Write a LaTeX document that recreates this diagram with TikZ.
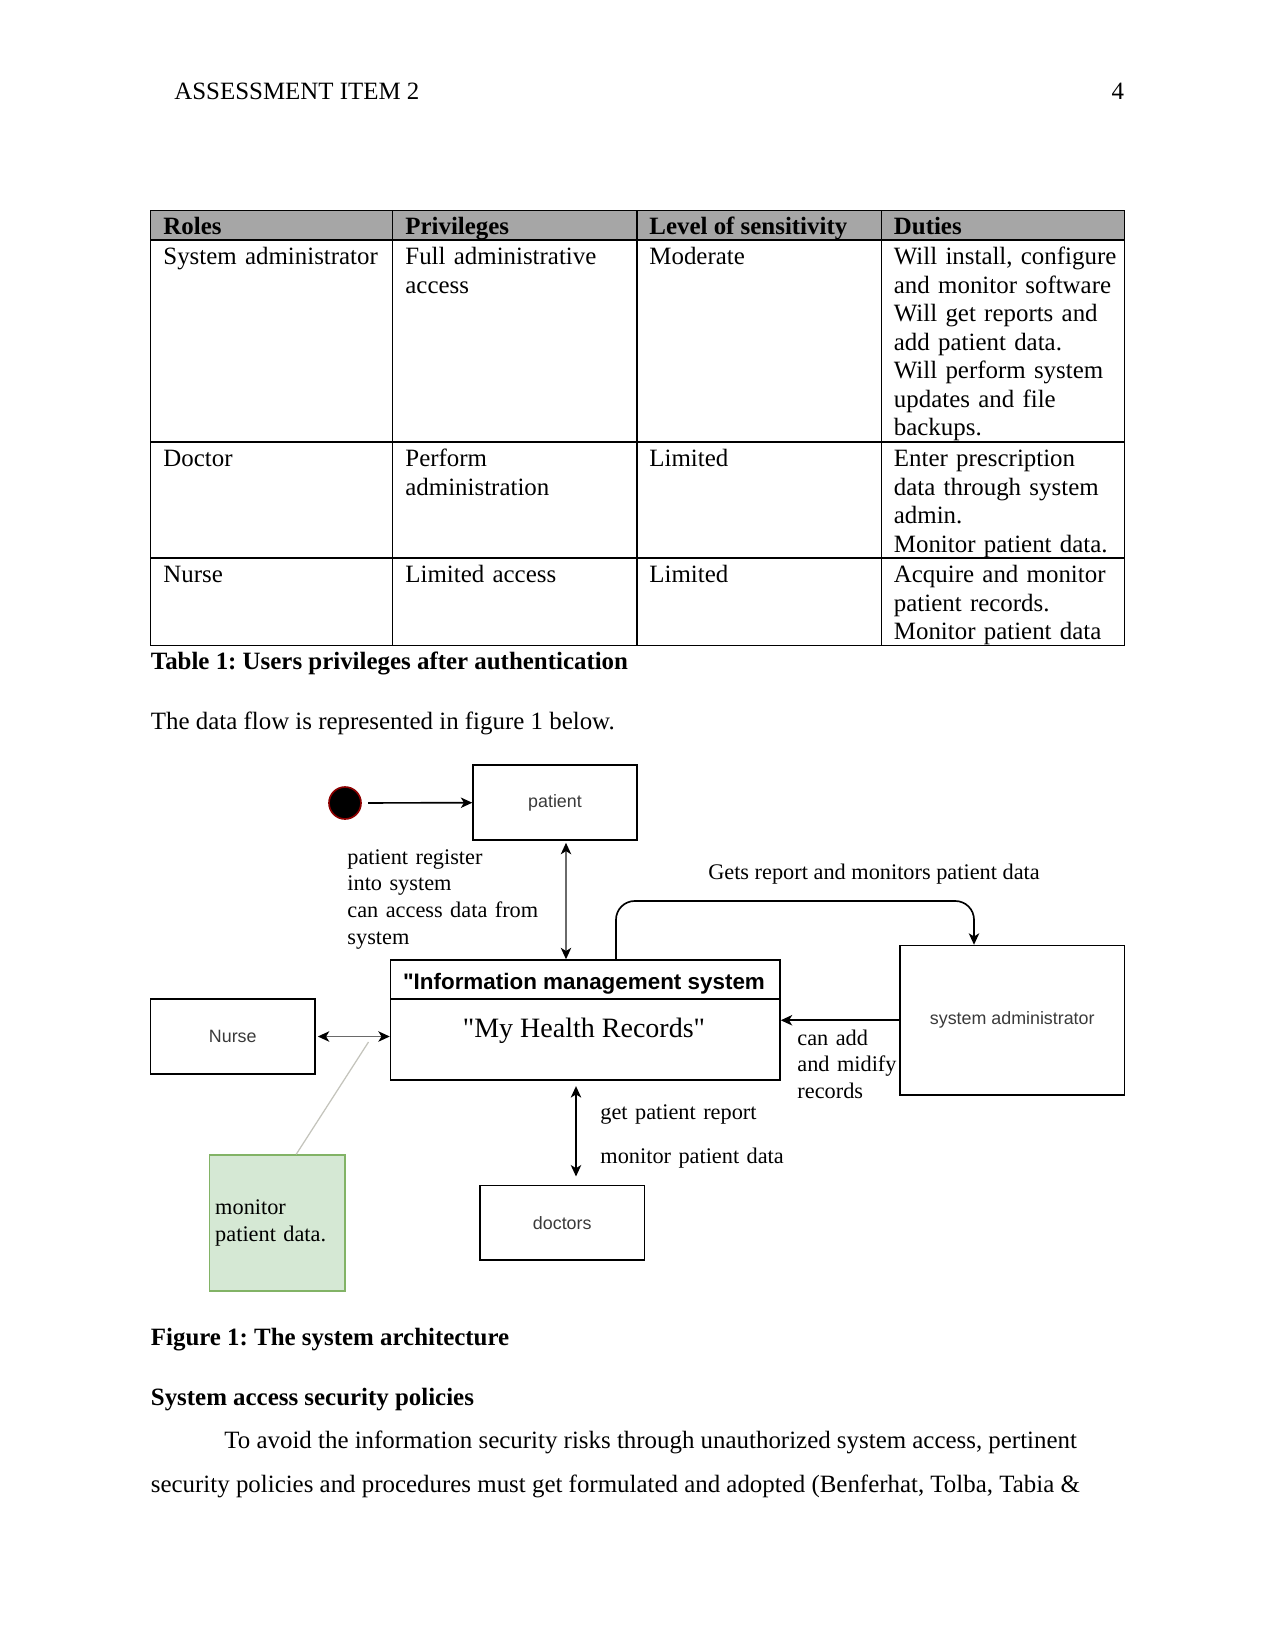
\documentclass[tikz,border=0pt]{standalone}
\usepackage{fontspec}
\setmainfont{Liberation Serif}
\newfontfamily\diagsans{Liberation Sans}
\usetikzlibrary{arrows.meta,calc}
\definecolor{HeaderGray}{HTML}{A6A6A6}
\definecolor{BoxText}{HTML}{3A3A3A}
\definecolor{DotRed}{HTML}{8B0000}
\definecolor{NoteFill}{HTML}{D5E8D4}
\definecolor{NoteDraw}{HTML}{82B366}
\definecolor{LeaderGray}{HTML}{C4C4BC}
\definecolor{ShaftGray}{HTML}{6A6A6A}
\newcommand{\unitpx}{0.16933mm}
\newcommand{\bodyfont}{\fontsize{12pt}{13.75pt}\selectfont}
\newcommand{\labelfont}{\fontsize{10.75pt}{13pt}\selectfont}
\frenchspacing

\begin{document}
\begin{tikzpicture}[
  x=\unitpx, y=-\unitpx,
  pagetext/.style={anchor=base west, inner sep=0pt, font=\bodyfont},
  headtext/.style={anchor=base west, inner sep=0pt, font=\bodyfont\bfseries},
  cell/.style={pagetext, text width=4cm, align=left},
  boxsize/.style 2 args={minimum width=#1*\unitpx, minimum height=#2*\unitpx},
  box/.style={rectangle, draw, line width=0.7pt, inner sep=0pt, text=BoxText, font=\diagsans\fontsize{8.6pt}{10pt}\selectfont},
  flowlabel/.style={anchor=base west, inner sep=0pt, text width=4cm, align=left, font=\labelfont},
  arrow/.style={-{Stealth[length=5.5pt,width=5pt,inset=1.5pt,color=black]}, line width=0.8pt},
  dblarrow/.style={{Stealth[length=5.5pt,width=5pt,inset=1.5pt,color=black]}-{Stealth[length=5.5pt,width=5pt,inset=1.5pt,color=black]}, line width=0.8pt},
  leader/.style={draw=LeaderGray, line width=0.6pt}
]
\fill[white] (0,0) rectangle (1275,1651);
\useasboundingbox (0,0) rectangle (1275,1651);

% running head
\node[pagetext] (runhead) at (174,99) {ASSESSMENT ITEM 2};
\node[pagetext, anchor=base east] (pagenum) at (1124.5,99) {4};

% table grid
\fill[HeaderGray] (150.5,210.6) rectangle (1124.5,240);
\draw[line width=0.5pt] (150.5,210.6) rectangle (1124.5,645.4);
\foreach \ypos in {240,442,558}
  \draw[line width=0.5pt] (150.5,\ypos) -- (1124.5,\ypos);
\foreach \xpos in {392.7,637,881.3}
  \draw[line width=0.5pt] (\xpos,210.6) -- (\xpos,645.4);

\node[headtext] (rolehead) at (163,234) {Roles};
\node[headtext] (privhead) at (405,234) {Privileges};
\node[headtext] (senshead) at (649,234) {Level of sensitivity};
\node[headtext] (dutyhead) at (893.5,234) {Duties};

\node[cell] (adminrole) at (163,264.5) {System administrator};
\node[cell] (adminpriv) at (405,264.5) {Full administrative\\access};
\node[cell] (adminsens) at (649,264.5) {Moderate};
\node[cell] (adminduty) at (893.5,264.5) {Will install, configure\\and monitor software\\Will get reports and\\add patient data.\\Will perform system\\updates and file\\backups.};

\node[cell] (doctorrole) at (163,466.5) {Doctor};
\node[cell] (doctorpriv) at (405,466.5) {Perform\\administration};
\node[cell] (doctorsens) at (649,466.5) {Limited};
\node[cell] (doctorduty) at (893.5,466.5) {Enter prescription\\data through system\\admin.\\Monitor patient data.};

\node[cell] (nurserole) at (163,582.5) {Nurse};
\node[cell] (nursepriv) at (405,582.5) {Limited access};
\node[cell] (nursesens) at (649,582.5) {Limited};
\node[cell] (nurseduty) at (893.5,582.5) {Acquire and monitor\\patient records.\\Monitor patient data};

\node[headtext] (tablecap) at (150.5,669.5) {Table 1: Users privileges after authentication};
\node[pagetext] (intro) at (150.5,729.5) {The data flow is represented in figure 1 below.};

% diagram
\node[circle, fill=black, draw=DotRed, line width=0.8pt, minimum size=32*\unitpx, inner sep=0pt] (start) at (345,803) {};
\node[box, boxsize={164}{75}] (patient) at (555,802.5) {patient};
\node[box, boxsize={389.5}{39}] (imshead) at (585.25,979.5) {};
\node[anchor=base, inner sep=0pt, font=\diagsans\bfseries\fontsize{10.8pt}{13pt}\selectfont] (imstitle) at (584,989) {\textquotedbl Information management system};
\node[box, boxsize={389.5}{81}] (imsbody) at (585.25,1039.5) {};
\node[anchor=base, inner sep=0pt, font=\fontsize{13.5pt}{16pt}\selectfont] (mhr) at (584,1037) {\textquotedbl My Health Records\textquotedbl};
\node[box, boxsize={224.5}{149.5}] (sysadmin) at (1012.25,1020.25) {system administrator};
\node[box, boxsize={164.5}{75}] (nurse) at (232.75,1036.5) {Nurse};
\node[box, boxsize={164.5}{74.5}] (doctors) at (562.25,1222.75) {doctors};
\node[rectangle, draw=NoteDraw, fill=NoteFill, line width=0.7pt, boxsize={135.5}{136}, inner sep=4.5*\unitpx, text width=2.1cm, align=left, font=\labelfont] (note) at (277.25,1223) {monitor\\patient data.};

\coordinate (patientlink) at (566,0);
\coordinate (doctorlink) at (576,0);
\coordinate (reportup) at (616,901);
\coordinate (reportdown) at (974,901);
\coordinate (leaderstart) at (368.5,1042);

\draw[arrow, shorten <=3pt] (start) -- (patient);
\draw[dblarrow, draw=ShaftGray, shorten <=1pt] (patient.south -| patientlink) -- (imshead.north -| patientlink);
\draw[arrow, rounded corners=9pt] (imshead.north -| reportup) -- (reportup) -- (reportdown) -- (reportdown |- sysadmin.north);
\draw[arrow] (sysadmin.west) -- (sysadmin.west -| imsbody.east);
\draw[dblarrow, draw=ShaftGray, shorten <=1pt] (nurse.east) -- (nurse.east -| imsbody.west);
\draw[dblarrow, shorten <=2.6pt, shorten >=4pt] (imsbody.south -| doctorlink) -- (doctors.north -| doctorlink);
\draw[leader] (leaderstart) -- ($(note.north)!0.277!(note.north east)$);

\node[flowlabel] (registerlabel) at (347,864) {patient register\\into system\\can access data from\\system};
\node[anchor=base, inner sep=0pt, font=\labelfont] (reportlabel) at (874,879) {Gets report and monitors patient data};
\node[flowlabel] (modifylabel) at (797,1045) {can add\\and midify\\records};
\node[flowlabel] (doctorlabel) at (600,1119) {get patient report};
\node[flowlabel] (monitorlabel) at (600,1163) {monitor patient data};

% text below figure
\node[headtext] (figcap) at (150.5,1345) {Figure 1: The system architecture};
\node[headtext] (policyhead) at (150.5,1405) {System access security policies};
\node[pagetext] (bodyone) at (224,1448.5) {To avoid the information security risks through unauthorized system access, pertinent};
\node[pagetext] (bodytwo) at (150.5,1492) {security policies and procedures must get formulated and adopted (Benferhat, Tolba, Tabia \&};
\end{tikzpicture}
\end{document}
